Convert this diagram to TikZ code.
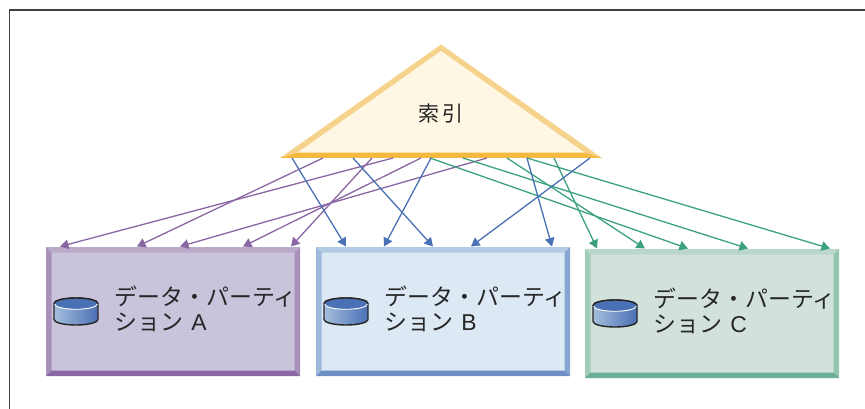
\documentclass[tikz,border=0pt]{standalone}
\usepackage{fontspec}
\setmainfont{Noto Sans CJK JP}
\setsansfont{Liberation Sans}
\usetikzlibrary{arrows.meta}
\definecolor{purpA}{HTML}{8A66A3}
\definecolor{blueA}{HTML}{4A70B5}
\definecolor{greenA}{HTML}{3BA17F}
\definecolor{diskL}{HTML}{A5BEDD}
\definecolor{triFill}{HTML}{FDF7E3}
\definecolor{triEdge}{HTML}{F6D38C}
\definecolor{triBase}{HTML}{F5B93F}
\definecolor{aF}{HTML}{C9C3DC}\definecolor{aT}{HTML}{BBABCB}\definecolor{aL}{HTML}{A98FBB}\definecolor{aR}{HTML}{A98FBB}\definecolor{aB}{HTML}{8A66A3}
\definecolor{bF}{HTML}{DCE8F4}\definecolor{bT}{HTML}{B1CBE5}\definecolor{bL}{HTML}{9DB9DB}\definecolor{bR}{HTML}{86A7D3}\definecolor{bB}{HTML}{6E8FC4}
\definecolor{cF}{HTML}{D2E2DA}\definecolor{cT}{HTML}{BBD6CB}\definecolor{cL}{HTML}{A3CDBB}\definecolor{cR}{HTML}{94C5AF}\definecolor{cB}{HTML}{6BAE96}
\tikzset{
  x=1pt,y=-1pt,
  link/.style={line width=1.3pt,-{Triangle[length=8.5pt,width=9.5pt]}},
  lbl/.style={anchor=north west,align=left,inner sep=0pt,font=\fontsize{22.9}{25}\selectfont,text=black!85},
  pt/.style={inner sep=0pt,minimum size=0pt,outer sep=0pt},
}
% #1 x0, #2 y0, #3 x1, #4 y1, fill, top, left, right, bottom
\newcommand{\bevbox}[9]{%
  \fill[#5] (#1,#2) rectangle (#3,#4);
  \fill[#6] (#1,#2) -- (#3,#2) -- (#3-5.5,#2+5.5) -- (#1+5.5,#2+5.5) -- cycle;
  \fill[#7] (#1,#2) -- (#1+5.5,#2+5.5) -- (#1+5.5,#4-5.5) -- (#1,#4) -- cycle;
  \fill[#8] (#3,#2) -- (#3-5.5,#2+5.5) -- (#3-5.5,#4-5.5) -- (#3,#4) -- cycle;
  \fill[#9] (#1,#4) -- (#1+5.5,#4-5.5) -- (#3-5.5,#4-5.5) -- (#3,#4) -- cycle;
}
\newcommand{\disk}[2]{%
  \begin{scope}[shift={(#1,#2)}]
    \path[draw=black!85,line width=1.4pt,left color=diskL,right color=blueA]
      (0,5.5) -- (0,21.5) arc[start angle=180,end angle=360,x radius=22,y radius=-5.5] -- (44,5.5)
      arc[start angle=0,end angle=180,x radius=22,y radius=-5.5] -- cycle;
    \fill[blueA] (0,5.5) arc[start angle=180,end angle=360,x radius=22,y radius=-5.5]
       arc[start angle=0,end angle=180,x radius=22,y radius=-5.5];
    \draw[white,line width=0.9pt] (0.7,6) arc[start angle=180,end angle=360,x radius=21.3,y radius=-5.3];
    \draw[black!85,line width=1.4pt] (44,5.5) arc[start angle=0,end angle=180,x radius=22,y radius=-5.5];
  \end{scope}
}
\begin{document}
\begin{tikzpicture}
\useasboundingbox (0,0) rectangle (865,409);
\draw[black!75,line width=1.5pt] (9.5,409) -- (9.5,10) (8.75,10) -- (865,10);

% triangle
\fill[triEdge] (441,44.5) -- (602,158) -- (280,158) -- cycle;
\fill[triFill] (441,51) -- (585,153) -- (297,153) -- cycle;
\fill[triBase] (280,158) -- (602,158) -- (585,152.7) -- (297,152.7) -- cycle;
\node[pt,font=\fontsize{21}{24}\selectfont,text=black!85] (idx) at (441,114) {索\,引};

% boxes
\bevbox{46}{247}{300}{376}{aF}{aT}{aL}{aR}{aB}
\bevbox{316}{247}{570}{376}{bF}{bT}{bL}{bR}{bB}
\bevbox{585}{249}{839}{378}{cF}{cT}{cL}{cR}{cB}
\disk{54}{298}
\disk{324}{298}
\disk{593}{300}
\node[lbl] (la) at (114.5,286) {データ・パーティ\\ション\hspace{0.35em}{\sffamily A}};
\node[lbl] (lb) at (384.5,286) {データ・パーティ\\ション\hspace{0.35em}{\sffamily B}};
\node[lbl] (lc) at (653.5,288) {データ・パーティ\\ション\hspace{0.35em}{\sffamily C}};

% anchors
\foreach \n/\x in {p1/323,p2/393,p3/421,p4/487,p5/372,b1/292,b2/353,b3/431,b4/527,b5/590,g1/430,g2/463,g3/507,g4/527,g5/554}
  \coordinate (\n) at (\x,158);
\foreach \n/\x in {P1/137,P2/60,P3/243,P4/180,P5/291,B1/346,B2/433,B3/384,B4/552,B5/471}
  \coordinate (\n) at (\x,246.5);
\foreach \n/\x in {G1/688,G2/748,G3/645,G4/830,G5/597}
  \coordinate (\n) at (\x,248.5);
\foreach \a/\b in {p1/P1,p2/P2,p3/P3,p4/P4,p5/P5} \draw[link,purpA] (\a) -- (\b);
\foreach \a/\b in {g1/G1,g2/G2,g3/G3,g4/G4,g5/G5} \draw[link,greenA] (\a) -- (\b);
\foreach \a/\b in {b1/B1,b2/B2,b3/B3,b4/B4,b5/B5} \draw[link,blueA] (\a) -- (\b);
\end{tikzpicture}
\end{document}
